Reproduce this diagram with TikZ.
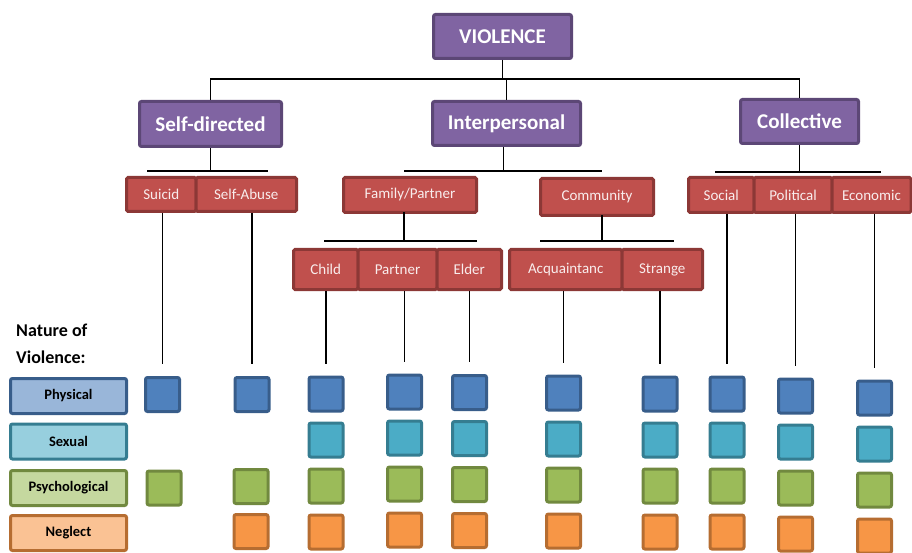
\documentclass[tikz,border=0pt]{standalone}
\usepackage{fontspec}
\setmainfont{Carlito}
\usetikzlibrary{positioning,calc}

\definecolor{vpurple}{HTML}{8064A2}
\definecolor{vpurpleD}{HTML}{5C4776}
\definecolor{vred}{HTML}{C0504D}
\definecolor{vredD}{HTML}{8C3836}
\definecolor{vblue}{HTML}{4F81BD}
\definecolor{vblueD}{HTML}{385D8A}
\definecolor{vteal}{HTML}{4BACC6}
\definecolor{vtealD}{HTML}{357D91}
\definecolor{vgreen}{HTML}{9BBB59}
\definecolor{vgreenD}{HTML}{71893F}
\definecolor{vorange}{HTML}{F79646}
\definecolor{vorangeD}{HTML}{B66D31}

\tikzset{%
	topbox/.style={draw=vpurpleD,fill=vpurple,line width=3pt,rounded corners=2pt,
		inner sep=0pt,text=white,font=\bfseries\fontsize{21}{24}\selectfont},%
	cell/.style={draw=vredD,fill=vred,line width=3pt,rounded corners=1.5pt,
		inner sep=0pt,outer sep=0pt,text=white!90!vred,font=\fontsize{15}{18}\selectfont},%
	link/.style={line width=1.3pt,black},%
	sq/.style={line width=3pt,rounded corners=2pt,minimum size=34pt,inner sep=0pt},%
	key/.style={line width=3pt,rounded corners=2pt,minimum width=116pt,
		minimum height=35pt,inner sep=0pt,font=\bfseries\fontsize{14.5}{17}\selectfont},%
	physical/.style={draw=vblueD,fill=vblue},%
	sexual/.style={draw=vtealD,fill=vteal},%
	psychological/.style={draw=vgreenD,fill=vgreen},%
	neglect/.style={draw=vorangeD,fill=vorange}%
}

\begin{document}
\begin{tikzpicture}[x=1pt,y=-1pt]
	\useasboundingbox (0,0) rectangle (912,553);
	
	%% top and second level
	\node[topbox,minimum width=138,minimum height=44] (violence) at (502.5,36.5) {VIOLENCE};
	\node[topbox,minimum width=142,minimum height=45] (selfdir) at (210.5,124) {Self-directed};
	\node[topbox,minimum width=148,minimum height=44] (interp) at (506.5,123.5) {Interpersonal};
	\node[topbox,minimum width=118,minimum height=44] (collect) at (799.5,121.5) {Collective};
	
	%% third level
	\node[cell,minimum width=69.5,minimum height=34] (suicid) at (161.25,194.5) {Suicid};
	\node[cell,minimum width=100.5,minimum height=34,right=0pt of suicid] (selfabuse) {Self-Abuse};
	\node[cell,minimum width=133,minimum height=35] (family) at (410,195) {Family/Partner};
	\node[cell,minimum width=113,minimum height=37] (community) at (597,197) {Community};
	\node[cell,minimum width=65.5,minimum height=35] (social) at (721.25,195) {Social};
	\node[cell,minimum width=78,minimum height=35,right=0pt of social] (political) {Political};
	\node[cell,minimum width=79,minimum height=35,right=0pt of political] (economic) {Economic};
	
	%% fourth level
	\node[cell,minimum width=64.5,minimum height=40] (child) at (325.75,269.5) {Child};
	\node[cell,minimum width=79,minimum height=40,right=0pt of child] (partner) {Partner};
	\node[cell,minimum width=64.5,minimum height=40,right=0pt of partner] (elder) {Elder};
	\node[cell,minimum width=112.5,minimum height=40] (acq) at (565.75,269.5) {Acquaintanc};
	\node[cell,minimum width=80.5,minimum height=40,right=0pt of acq] (strange) {Strange};
	
	%% tree lines
	\coordinate (bus) at (0,79);
	\draw[link] (violence.south) -- (violence.south |- bus);
	\draw[link] (selfdir.north) -- (selfdir.north |- bus) -- (collect.north |- bus) -- (collect.north);
	\draw[link] (interp.north) -- (interp.north |- bus);
	
	\coordinate (sdL) at (147,171); \coordinate (sdR) at (268,171);
	\coordinate (ipL) at (404,171); \coordinate (ipR) at (602,171);
	\coordinate (coL) at (715,172); \coordinate (coR) at (881,172);
	\coordinate (faL) at (324,241); \coordinate (faR) at (477,241);
	\coordinate (cmL) at (540,241); \coordinate (cmR) at (674,241);
	\draw[link] (sdL) -- (sdR);
	\draw[link] (ipL) -- (ipR);
	\draw[link] (coL) -- (coR);
	\draw[link] (faL) -- (faR);
	\draw[link] (cmL) -- (cmR);
	\draw[link] (selfdir.south) -- (selfdir.south |- sdL);
	\draw[link] ([xshift=-3pt]interp.south) -- ([xshift=-3pt]interp.south |- ipL);
	\draw[link] (collect.south) -- (collect.south |- coL);
	\draw[link] ([xshift=-6pt]family.south) -- ([xshift=-6pt]family.south |- faL);
	\draw[link] ([xshift=5pt]community.south) -- ([xshift=5pt]community.south |- cmL);
	
	%% nature of violence squares
	\node[sq,physical] (suicid-physical) at (162.5,394.5) {};
	\node[sq,psychological] (suicid-psychological) at (164,488) {};
	\node[sq,physical] (selfabuse-physical) at (252,394.5) {};
	\node[sq,psychological] (selfabuse-psychological) at (251,486.5) {};
	\node[sq,neglect] (selfabuse-neglect) at (251,531.5) {};
	\foreach \c/\x/\dy in {child/326/0,partner/404.5/-2,elder/469.5/-1.5,acq/563.5/-1,
		strange/660/0,social/727/0,political/795.5/2,economic/874.5/4} {
		\foreach \k [count=\r from 0] in {physical,sexual,psychological,neglect} {
			\node[sq,\k] (\c-\k) at (\x,{394+46*\r+\dy}) {};
		}
	}
	\foreach \c in {suicid,selfabuse,child,partner,elder,acq,strange,social,political,economic} {
		\draw[link,shorten <=1.5pt,shorten >=12pt] (\c-physical.north |- \c.south) -- (\c-physical.north);
	}
	
	%% legend
	\node[font=\bfseries\fontsize{18}{27}\selectfont,align=left,anchor=north west,inner sep=0pt]
		(nature) at (16,324) {Nature of\\Violence:};
	\foreach \k/\col/\t/\y in {physical/vblue/Physical/396,sexual/vteal/Sexual/441.5,
		psychological/vgreen/Psychological/488,neglect/vorange/Neglect/533} {
		\node[key,\k,fill=\col!58!white] (key-\k) at (68.5,\y) {\t};
	}
\end{tikzpicture}
\end{document}
